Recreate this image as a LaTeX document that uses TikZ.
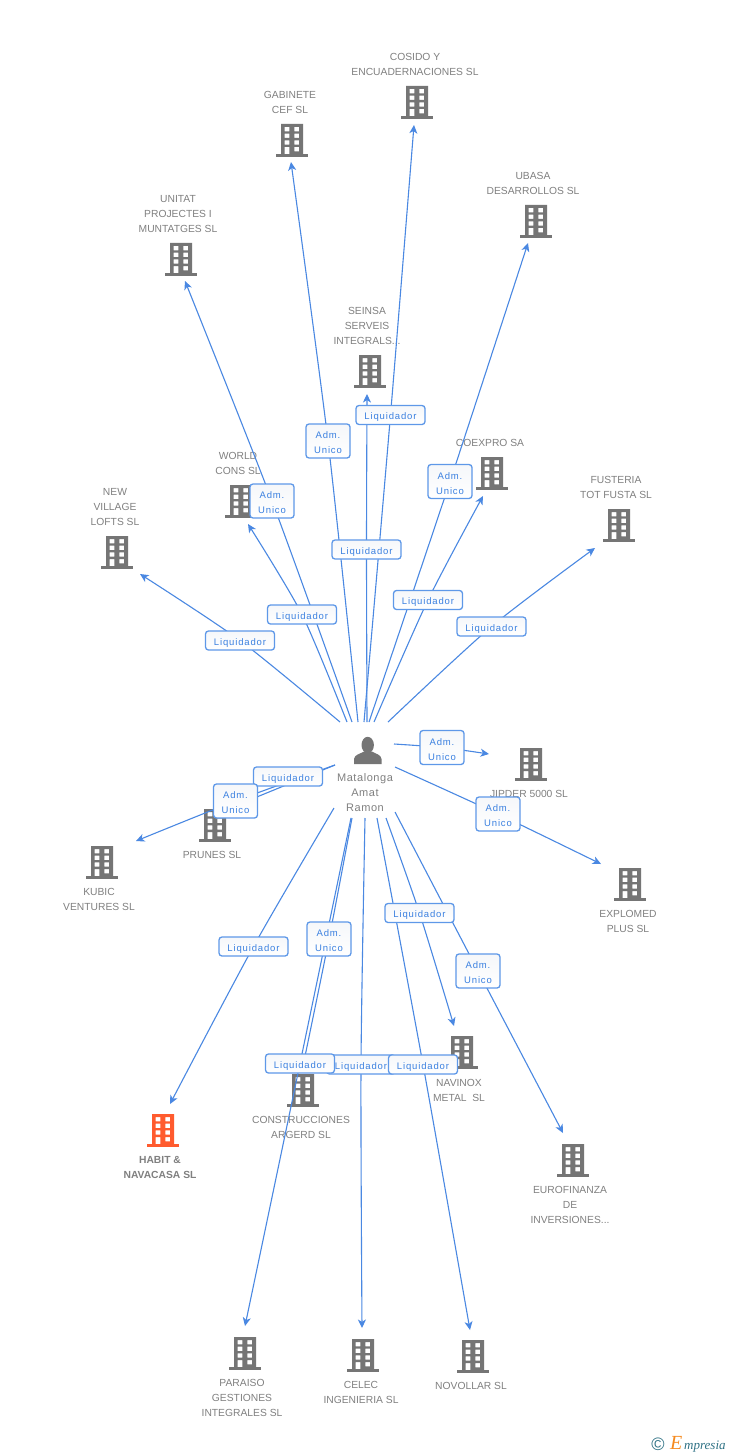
\documentclass[tikz,border=0pt]{standalone}
\usepackage{fontspec}
\setmainfont{Liberation Sans}
\newfontfamily\lblfont[LetterSpace=9]{Liberation Sans}
\newfontfamily\perfont[LetterSpace=5]{Liberation Sans}
\newfontfamily\logofont{Liberation Serif}
\usetikzlibrary{arrows.meta}
\definecolor{icon}{HTML}{757575}
\definecolor{hot}{HTML}{FF5B2E}
\definecolor{txt}{HTML}{808080}
\definecolor{lnk}{HTML}{4A88E2}
\definecolor{lbltxt}{HTML}{3A80E0}
\definecolor{lblbd}{HTML}{5E98E8}
\definecolor{lbltop}{HTML}{F5F7FA}
\definecolor{logoteal}{HTML}{2F7285}
\definecolor{logoorg}{HTML}{F58A1F}
\pgfdeclarelayer{bg}\pgfdeclarelayer{fg}\pgfsetlayers{bg,main,fg}
\tikzset{
  conn/.style={draw=lnk,line width=1.1pt,-{Stealth[length=8.5pt,width=8pt,inset=2.4pt]}},
  tagbox/.style={rounded corners=3pt,draw=lblbd,line width=1.3pt,top color=lbltop,bottom color=white,text=lbltxt,
     font=\lblfont\fontsize{9.5}{15}\selectfont,align=center,inner sep=0pt},
  liq/.style={tagbox,minimum width=69pt,minimum height=19pt},
  adm/.style={tagbox,minimum width=44pt,minimum height=34pt},
  captxt/.style={text=txt,font=\fontsize{10.3}{15}\selectfont,align=center,inner sep=0pt,anchor=north},
}
\newcommand{\Liq}{\rule{0pt}{11pt}Liquidador}
\newcommand{\Adm}{\rule{0pt}{11pt}Adm.\\Unico}
\newcommand{\bld}[3][icon]{%
  \coordinate (#2) at (#3);
  \begin{scope}[shift={(#2)}]
   \fill[#1] (-16,0) rectangle (16,-2.6);
   \fill[#1,even odd rule] (-11,-2.6) rectangle (11,-33)
     (-7.4,-30) rectangle (-2.7,-25.7) (2.4,-30) rectangle (7.1,-25.7)
     (-7.4,-23.3) rectangle (-2.7,-19) (2.4,-23.3) rectangle (7.1,-19)
     (-7.4,-16.7) rectangle (-2.7,-12.3) (2.4,-16.7) rectangle (7.1,-12.3)
     (-7.4,-10) rectangle (-2.7,-2.6) (2.4,-10) rectangle (7.1,-5.7);
  \end{scope}}
\newcommand{\lk}[4]{% name, start, via, end
  \coordinate (s#1) at (#2);\coordinate (e#1) at (#4);
  \draw[conn] plot[smooth,tension=0.45] coordinates {(s#1) (#3) (e#1)};}
\begin{document}
\begin{tikzpicture}[x=1pt,y=-1pt]
\useasboundingbox (0,0) rectangle (728,1455);
\begin{pgfonlayer}{bg}
\fill[white] (0,0) rectangle (728,1455);
\bld{bCosido}{417,119}
\bld{bGabinete}{292,157}
\bld{bUbasa}{536,238}
\bld{bUnitat}{181,276}
\bld{bSeinsa}{370,388}
\bld{bCoexpro}{492,490}
\bld{bWorld}{241,518}
\bld{bNew}{117,569}
\bld{bFust}{619,542}
\bld{bJip}{531,781}
\bld{bExpl}{630,901}
\bld{bPrun}{215,842}
\bld{bKub}{102,879}
\bld[hot]{bHab}{163,1147}
\bld{bCons}{303,1107}
\bld{bNav}{462,1069}
\bld{bEuro}{573,1177}
\bld{bPar}{245,1370}
\bld{bCel}{363,1372}
\bld{bNov}{473,1373}
% person
\coordinate (person) at (368,764);
\fill[icon] (354,764) -- (354,759) .. controls (354.5,754.5) and (360,754) .. (364,751.5) -- (372,751.5) .. controls (376,754) and (381,754.5) .. (381.5,759) -- (381.5,764) -- cycle;
\fill[icon] (367.7,745) ellipse (6.2 and 8.2);
% captions
\node[captxt] (cCosido) at (415,53.5) {COSIDO Y\\ENCUADERNACIONES SL};
\node[captxt] (cGab) at (290,91.5) {GABINETE\\CEF SL};
\node[captxt] (cUb) at (533,172.5) {UBASA\\DESARROLLOS SL};
\node[captxt] (cUn) at (178,195.5) {UNITAT\\PROJECTES I\\MUNTATGES SL};
\node[captxt] (cSe) at (367,307.5) {SEINSA\\SERVEIS\\INTEGRALS...};
\node[captxt] (cCo) at (490,439.5) {COEXPRO SA};
\node[captxt] (cWo) at (238,452.5) {WORLD\\CONS SL};
\node[captxt] (cNe) at (115,488.5) {NEW\\VILLAGE\\LOFTS SL};
\node[captxt] (cFu) at (616,476.5) {FUSTERIA\\TOT FUSTA SL};
\node[captxt] (cJi) at (529,790.5) {JIPDER 5000 SL};
\node[captxt] (cEx) at (628,910.5) {EXPLOMED\\PLUS SL};
\node[captxt] (cPr) at (212,851.5) {PRUNES SL};
\node[captxt] (cKu) at (99,888.5) {KUBIC\\VENTURES SL};
\node[captxt,font=\fontsize{10.3}{15}\selectfont\bfseries] (cHa) at (160,1156.5) {HABIT \&\\NAVACASA SL};
\node[captxt] (cCn) at (301,1116.5) {CONSTRUCCIONES\\ARGERD SL};
\node[captxt] (cNa) at (459,1079.5) {NAVINOX\\METAL\ \ SL};
\node[captxt] (cEu) at (570,1186.5) {EUROFINANZA\\DE\\INVERSIONES...};
\node[captxt] (cPa) at (242,1379.5) {PARAISO\\GESTIONES\\INTEGRALES SL};
\node[captxt] (cCe) at (361,1381.5) {CELEC\\INGENIERIA SL};
\node[captxt] (cNo) at (471,1382.5) {NOVOLLAR SL};
\node[captxt,font=\perfont\fontsize{11}{15}\selectfont] (cPe) at (365,773.5) {Matalonga\\Amat\\Ramon};
% logo
\node[inner sep=0pt,text=logoteal,font=\fontsize{18}{18}\selectfont] (logoC) at (658,1444) {©};
\node[inner sep=0pt,anchor=base west,text=logoorg,font=\logofont\itshape\fontsize{20}{20}\selectfont] (logoE) at (670,1449.5) {E};
\node[inner sep=0pt,anchor=base west,text=logoteal,font=\logofont\itshape\fontsize{13}{13}\selectfont] (logoT) at (684,1449.5) {mpresia};
\end{pgfonlayer}
% labels
\begin{pgfonlayer}{fg}
\node[liq] (t1) at (390.5,415) {\Liq};
\node[adm] (t2) at (328,441) {\Adm};
\node[adm] (t3) at (450,481.5) {\Adm};
\node[adm] (t4) at (272,501) {\Adm};
\node[liq] (t5) at (366.5,549.5) {\Liq};
\node[liq] (t6) at (428,600) {\Liq};
\node[liq] (t7) at (302,614.5) {\Liq};
\node[liq] (t8) at (240,640.5) {\Liq};
\node[liq] (t9) at (491.5,626.5) {\Liq};
\node[adm] (t10) at (442,747.5) {\Adm};
\node[adm] (t11) at (498,814) {\Adm};
\node[liq] (t12) at (288,776.5) {\Liq};
\node[adm] (t13) at (235.5,801) {\Adm};
\node[liq] (t14) at (253.5,946.5) {\Liq};
\node[adm] (t15) at (329,939) {\Adm};
\node[liq] (t17) at (361,1064.5) {\Liq};
\node[liq] (t16) at (300,1063.5) {\Liq};
\node[liq] (t18) at (423,1064.5) {\Liq};
\node[liq] (t19) at (419.5,913) {\Liq};
\node[adm] (t20) at (478,971) {\Adm};
\end{pgfonlayer}
% connectors
\lk{1}{364,722}{t1}{414,125}
\lk{2}{358,722}{t2}{291,162}
\lk{3}{369,722}{t3}{528,243}
\lk{4}{352,722}{t4}{185,281}
\lk{5}{367,722}{t5}{367,394}
\lk{6}{374,722}{t6}{483,496}
\lk{7}{347,722}{t7}{248,524}
\lk{8}{340,722}{t8}{140,574}
\lk{9}{388,722}{t9}{595,548}
\lk{10}{394,744}{t10}{489,754}
\lk{11}{395,767}{t11}{601,864}
\coordinate (s12) at (335,765);\coordinate (e12) at (225,810);
\draw[conn] (s12) -- (e12);
\lk{13}{335,765}{t13}{136,841}
\lk{14}{334,808}{t14}{170,1104}
\lk{15}{352,818}{t15}{303,1066}
\lk{16}{351,818}{t16}{245,1326}
\lk{17}{365,818}{t17}{362,1328}
\lk{18}{377,818}{t18}{470,1330}
\lk{19}{386,818}{t19}{454,1026}
\lk{20}{395,812}{t20}{563,1133}
\end{tikzpicture}
\end{document}
